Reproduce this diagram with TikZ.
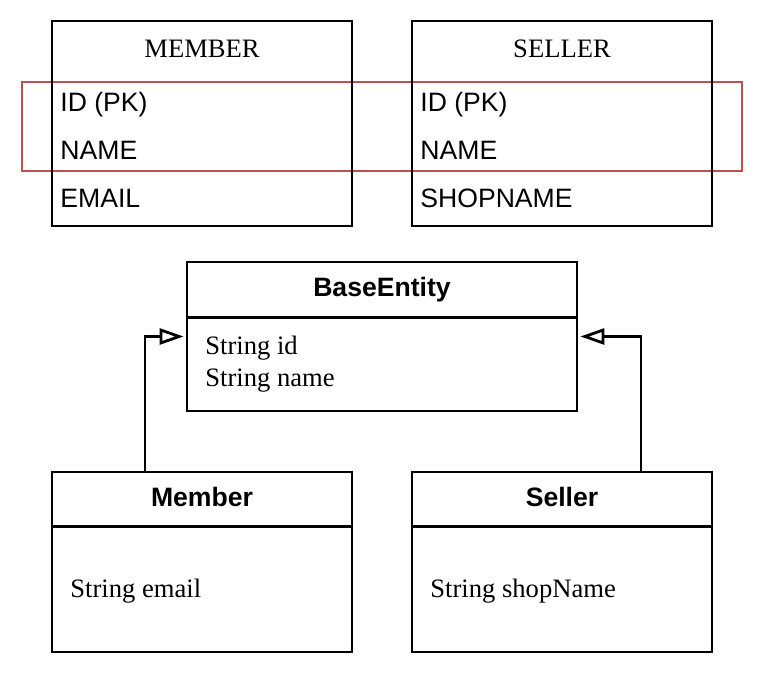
\documentclass[tikz,border=0pt]{standalone}
\usepackage{fontspec}
\setmainfont{Liberation Sans}
\newfontfamily\seriffont{Liberation Serif}
\usetikzlibrary{arrows.meta}
\definecolor{markred}{HTML}{B85450}
\tikzset{
  box/.style={draw, line width=1.4pt, inner sep=0pt},
  row/.style={anchor=base west, inner sep=0pt},
  head/.style={anchor=base, inner sep=0pt},
  inherit/.style={line width=1.4pt, -{Triangle[open,length=12pt,width=8pt]}},
}

\begin{document}
\begin{tikzpicture}[x=0.5pt,y=-0.5pt,font=\fontsize{13.3}{15}\selectfont]
        \useasboundingbox (0,0) rectangle (772,684);
        % tables
        \draw[markred, line width=1.2pt] (22,82) rectangle (742,171);
        \node[box, minimum width=150pt, minimum height=102.5pt] (memtab) at (202,123.5) {};
        \node[box, minimum width=150pt, minimum height=102.5pt] (seltab) at (562,123.5) {};
        \node[head] (memhead) at (202,58) {\seriffont MEMBER};
        \node[row] (memid) at (60,112) {ID (PK)};
        \node[row] (memname) at (60,160) {NAME};
        \node[row] (mememail) at (60,208) {EMAIL};
        \node[head] (selhead) at (562,58) {\seriffont SELLER};
        \node[row] (selid) at (420,112) {ID (PK)};
        \node[row] (selname) at (420,160) {NAME};
        \node[row] (selshop) at (420,208) {SHOPNAME};
        % classes
        \node[box, minimum width=195pt, minimum height=74.5pt] (base) at (382,336.5) {};
        \node[box, minimum width=150pt, minimum height=90pt] (member) at (202,562) {};
        \node[box, minimum width=150pt, minimum height=90pt] (seller) at (562,562) {};
        \draw[line width=1.4pt] ([yshift=-28.5pt]base.north west) -- ([yshift=-28.5pt]base.north east);
        \draw[line width=1.4pt] ([yshift=-28pt]member.north west) -- ([yshift=-28pt]member.north east);
        \draw[line width=1.4pt] ([yshift=-28pt]seller.north west) -- ([yshift=-28pt]seller.north east);
        \node[head] (basehead) at (382,297) {\bfseries BaseEntity};
        \node[row] (baseid) at (205,355) {\seriffont String id};
        \node[row] (basename) at (205,387) {\seriffont String name};
        \node[head] (memberhead) at (202,507) {\bfseries Member};
        \node[row] (memberemail) at (70,597) {\seriffont String email};
        \node[head] (sellerhead) at (562,507) {\bfseries Seller};
        \node[row] (sellershop) at (430,597) {\seriffont String shopName};
        % inheritance
        \draw[inherit] ([xshift=-28.5pt]member.north) |- ([xshift=-1pt]base.west);
        \draw[inherit] ([xshift=39.5pt]seller.north) |- ([xshift=1pt]base.east);
\end{tikzpicture}
\end{document}
